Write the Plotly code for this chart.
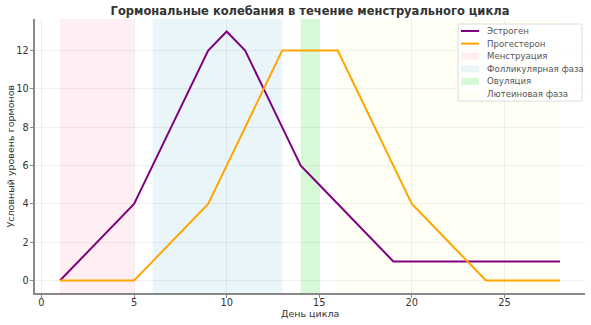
import plotly.graph_objects as go

days = list(range(1, 29))
estrogen = [0, 1, 2, 3, 4, 6, 8, 10, 12, 13, 12, 10, 8, 6, 5, 4, 3, 2, 1, 1, 1, 1, 1, 1, 1, 1, 1, 1]
progesterone = [0, 0, 0, 0, 0, 1, 2, 3, 4, 6, 8, 10, 12, 12, 12, 12, 10, 8, 6, 4, 3, 2, 1, 0, 0, 0, 0, 0]

series_names = ["Эстроген", "Прогестерон"]
series_colors = ["#800080", "#FFA500"]

phase_names = ["Менструация", "Фолликулярная фаза", "Овуляция", "Лютеиновая фаза"]
phase_start = [1, 6, 14, 16]
phase_end = [5, 13, 15, 28]
phase_colors = ["rgba(255,192,203,0.25)", "rgba(173,216,230,0.25)", "rgba(144,238,144,0.35)", "rgba(255,255,200,0.18)"]

x_ticks = [0, 5, 10, 15, 20, 25]
y_ticks = [0, 2, 4, 6, 8, 10, 12]

x_title = "День цикла"
y_title = "Условный уровень гормонов"

W, H = 591, 325
L, R, T, B = 35, 6, 19, 32
PW, PH = W - L - R, H - T - B


def px(x):
    return (x - L) / PW


def py(y):
    return (H - B - y) / PH


fig = go.Figure()

for s, e, c in zip(phase_start, phase_end, phase_colors):
    fig.add_vrect(x0=s, x1=e, fillcolor=c, line_width=0, layer="below")

for name, vals, col in zip(series_names, [estrogen, progesterone], series_colors):
    fig.add_trace(go.Scatter(x=days, y=vals, mode="lines", name=name,
                             line=dict(color=col, width=2), showlegend=False))

# custom compact legend (matplotlib-like)
fig.add_shape(type="rect", xref="paper", yref="paper",
              x0=px(458), x1=px(582), y0=py(101), y1=py(24),
              line=dict(color="#dcdcdc", width=1), fillcolor="rgba(255,255,255,0.8)", layer="above")
entry_y = [31, 43.6, 56.2, 68.8, 81.4, 94]
legend_labels = series_names + phase_names
for i, lab in enumerate(legend_labels):
    yc = entry_y[i]
    if i < 2:
        fig.add_shape(type="line", xref="paper", yref="paper",
                      x0=px(461), x1=px(479), y0=py(yc), y1=py(yc),
                      line=dict(color=series_colors[i], width=2), layer="above")
    else:
        fig.add_shape(type="rect", xref="paper", yref="paper",
                      x0=px(461), x1=px(479), y0=py(yc + 3.5), y1=py(yc - 3.5),
                      line=dict(width=0), fillcolor=phase_colors[i - 2], layer="above")
    fig.add_annotation(text=lab, xref="paper", yref="paper", x=px(485), y=py(yc),
                       xanchor="left", yanchor="middle", showarrow=False,
                       font=dict(size=8.6, color="#555", family="DejaVu Sans"))

# axis titles
fig.add_annotation(text=x_title, xref="paper", yref="paper", x=0.5, y=py(313.5),
                   xanchor="center", yanchor="middle", showarrow=False,
                   font=dict(size=9.5, color="#333", family="DejaVu Sans"))
fig.add_annotation(text=y_title, xref="paper", yref="paper", x=px(9.5), y=0.5,
                   xanchor="center", yanchor="middle", showarrow=False, textangle=-90,
                   font=dict(size=9.5, color="#333", family="DejaVu Sans"))

axis_common = dict(showline=True, linecolor="#888", linewidth=1.5, ticks="outside",
                   ticklen=3.5, tickcolor="#888", tickwidth=1, showgrid=True,
                   gridcolor="rgba(0,0,0,0.06)", zeroline=False, automargin=False,
                   tickfont=dict(size=9.8, color="#333", family="DejaVu Sans"))

fig.update_layout(
    width=W, height=H,
    margin=dict(l=L, r=R, t=T, b=B),
    plot_bgcolor="white", paper_bgcolor="white",
    title=dict(text="<b>Гормональные колебания в течение менструального цикла</b>",
               x=310 / W, xanchor="center", y=1 - 11 / H, yanchor="middle",
               font=dict(size=11.5, color="#333", family="DejaVu Sans")),
    xaxis=dict(range=[-0.35, 29.35], tickvals=x_ticks, ticklabelstandoff=-4, **axis_common),
    yaxis=dict(range=[-0.65, 13.65], tickvals=y_ticks, ticklabelstandoff=-1, **axis_common),
    showlegend=False,
)

fig.write_html("out.html")
